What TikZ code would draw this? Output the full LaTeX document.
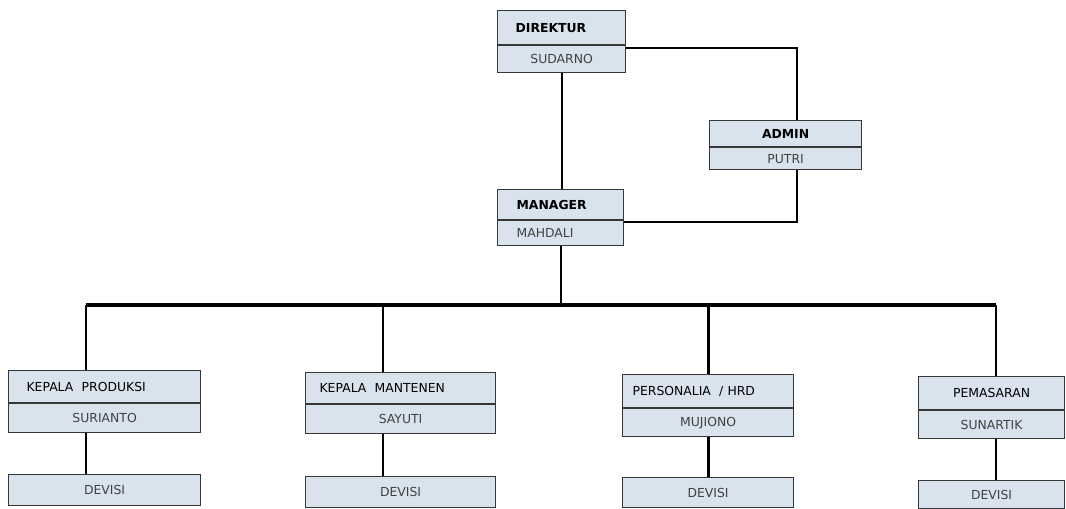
\documentclass[tikz,border=0pt]{standalone}
\usepackage{fontspec}
\setmainfont{DejaVu Sans}
\usetikzlibrary{positioning}
\definecolor{boxbg}{RGB}{216,227,238}
\definecolor{rulegrey}{RGB}{55,55,55}
\definecolor{namegrey}{RGB}{65,65,65}
\tikzset{
  jab/.style={draw=rulegrey,fill=boxbg,line width=0.9pt,anchor=north west,
              inner ysep=0pt,inner xsep=2pt,font=\fontsize{9.3}{11}\selectfont},
  tebal/.style={font=\fontsize{9.3}{11}\selectfont\bfseries},
  jabl/.style 2 args={jab,text width=#1,inner xsep=#2,align=left},
  nama/.style={jab,anchor=north,text=namegrey},
  garis/.style={line width=1.4pt,draw=black},
  garisb/.style={line width=3pt,draw=black},
}
\begin{document}
\begin{tikzpicture}[x=0.75pt,y=-0.75pt]
  \useasboundingbox (0,0) rectangle (1066,508);
  % pimpinan
  \node[jabl={69pt}{13.5pt},tebal,minimum height=25.5pt] (dir) at (497,10) {DIREKTUR};
  \node[nama,minimum width=96pt,minimum height=20.25pt,below=0pt of dir] (dirN) {SUDARNO};
  \node[jab,tebal,minimum width=114pt,minimum height=19.5pt] (adm) at (709,120) {ADMIN};
  \node[nama,minimum width=114pt,minimum height=16.5pt,below=0pt of adm] (admN) {PUTRI};
  \node[jabl={66pt}{14.25pt},tebal,minimum height=22.5pt] (mgr) at (497,189) {MANAGER};
  \node[jabl={66pt}{14.25pt},text=namegrey,minimum height=18.75pt,below=0pt of mgr] (mgrN) {MAHDALI};

  % bagian
  \node[jabl={117pt}{13.5pt},minimum height=24pt] (prd) at (8,370) {KEPALA\ \ PRODUKSI};
  \node[nama,minimum width=144pt,minimum height=21.75pt,below=0pt of prd] (prdN) {SURIANTO};
  \node[jab,text=namegrey,minimum width=144pt,minimum height=23.25pt] (prdD) at (8,474) {DEVISI};

  \node[jabl={121.5pt}{10.5pt},minimum height=23.25pt] (mtn) at (305,372) {KEPALA\ \ MANTENEN};
  \node[nama,minimum width=142.5pt,minimum height=21.75pt,below=0pt of mtn] (mtnN) {SAYUTI};
  \node[jab,text=namegrey,minimum width=142.5pt,minimum height=23.25pt] (mtnD) at (305,476) {DEVISI};

  \node[jabl={113.25pt}{7.5pt},minimum height=24.75pt] (hrd) at (622,374) {PERSONALIA\ \ / HRD};
  \node[nama,minimum width=128.25pt,minimum height=21pt,below=0pt of hrd] (hrdN) {MUJIONO};
  \node[jab,text=namegrey,minimum width=128.25pt,minimum height=22.5pt] (hrdD) at (622,477) {DEVISI};

  \node[jab,minimum width=109.5pt,minimum height=24.75pt] (pms) at (918,376) {PEMASARAN};
  \node[nama,minimum width=109.5pt,minimum height=21pt,below=0pt of pms] (pmsN) {SUNARTIK};
  \node[jab,text=namegrey,minimum width=109.5pt,minimum height=21pt] (pmsD) at (918,480) {DEVISI};

  % garis komando
  \coordinate (bar) at (561,305);
  \coordinate (prdX) at ([xshift=-14.25pt]prd.north);
  \coordinate (mtnX) at ([xshift=-13.5pt]mtn.north);
  \coordinate (pmsX) at ([xshift=3pt]pms.north);
  \draw[garis] ([yshift=-2pt]dirN.north east) -| ([xshift=8.25pt]adm.north);
  \draw[garis] (dirN.south) -- (dirN.south |- mgr.north);
  \draw[garis] ([xshift=8.25pt]admN.south) |- ([yshift=-1.5pt]mgrN.north east);
  \draw[garis] (mgrN.south) -- (mgrN.south |- bar);
  \draw[garisb] (prdX |- bar) -- (pmsX |- bar);
  \draw[garis] (prdX |- bar) -- (prdX);
  \draw[garis] (mtnX |- bar) -- (mtnX);
  \draw[garis,line width=2.2pt] (hrd.north |- bar) -- (hrd.north);
  \draw[garis] (pmsX |- bar) -- (pmsX);
  \draw[garis] (prdX |- prdN.south) -- (prdX |- prdD.north);
  \draw[garis] (mtnX |- mtnN.south) -- (mtnX |- mtnD.north);
  \draw[garis,line width=2.2pt] (hrdN.south) -- (hrdD.north);
  \draw[garis] (pmsX |- pmsN.south) -- (pmsX |- pmsD.north);
\end{tikzpicture}
\end{document}
